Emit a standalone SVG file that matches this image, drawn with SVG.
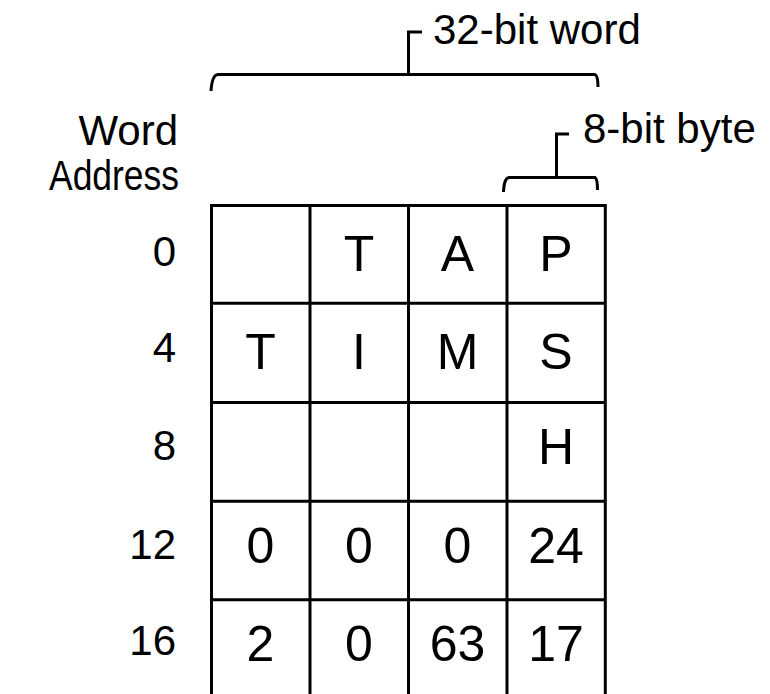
<svg xmlns="http://www.w3.org/2000/svg" width="770" height="694" viewBox="0 0 770 694">
<style>
.ln{stroke:#000;stroke-width:3;fill:none;stroke-linecap:butt}
.lbl{font-family:"Liberation Sans",Arial,sans-serif;font-size:42px;fill:#000}
.cell{font-family:"Liberation Sans",Arial,sans-serif;font-size:50px;fill:#000;text-anchor:middle}
.addr{font-family:"Liberation Sans",Arial,sans-serif;font-size:42px;fill:#000;text-anchor:end}
</style>
<rect width="770" height="694" fill="#fff"/>
<g id="connectors">
  <path class="ln" d="M211 91 Q212 75 218 74.5 L595 74.5 Q598 76 598 87"/>
  <path class="ln" d="M408.5 74.5 L408.5 32 L422 32"/>
  <path class="ln" d="M503.5 192 Q504 178 509 177.5 L595 177.5 Q597.5 179 597.5 190"/>
  <path class="ln" d="M556.5 177.5 L556.5 134 L569 134"/>
</g>
<g id="label-32bit"><text class="lbl" x="433" y="44">32-bit word</text></g>
<g id="label-8bit"><text class="lbl" x="583" y="143">8-bit byte</text></g>
<g id="label-word-address">
  <text class="addr" x="178" y="145">Word</text>
  <text class="addr" x="179" y="190" textLength="130" lengthAdjust="spacingAndGlyphs">Address</text>
</g>
<g id="grid">
  <path class="ln" d="M211.5 694 V205.5 H605.3 V694 M310 205.5 V694 M408.5 205.5 V694 M507 205.5 V694 M211.5 303.3 H605.3 M211.5 402.5 H605.3 M211.5 501.3 H605.3 M211.5 599.8 H605.3"/>
</g>
<g id="row-0">
  <text class="addr" x="176" y="266">0</text>
  <text class="cell" x="359" y="271">T</text>
  <text class="cell" x="457.5" y="271">A</text>
  <text class="cell" x="556" y="271">P</text>
</g>
<g id="row-4">
  <text class="addr" x="176" y="362">4</text>
  <text class="cell" x="260.5" y="369">T</text>
  <text class="cell" x="359" y="369">I</text>
  <text class="cell" x="457.5" y="369">M</text>
  <text class="cell" x="556" y="369">S</text>
</g>
<g id="row-8">
  <text class="addr" x="176" y="460">8</text>
  <text class="cell" x="556" y="464">H</text>
</g>
<g id="row-12">
  <text class="addr" x="176" y="559">12</text>
  <text class="cell" x="260.5" y="563">0</text>
  <text class="cell" x="359" y="563">0</text>
  <text class="cell" x="457.5" y="563">0</text>
  <text class="cell" x="556" y="563">24</text>
</g>
<g id="row-16">
  <text class="addr" x="176" y="655">16</text>
  <text class="cell" x="260.5" y="661">2</text>
  <text class="cell" x="359" y="661">0</text>
  <text class="cell" x="457.5" y="661">63</text>
  <text class="cell" x="556" y="661">17</text>
</g>
</svg>
